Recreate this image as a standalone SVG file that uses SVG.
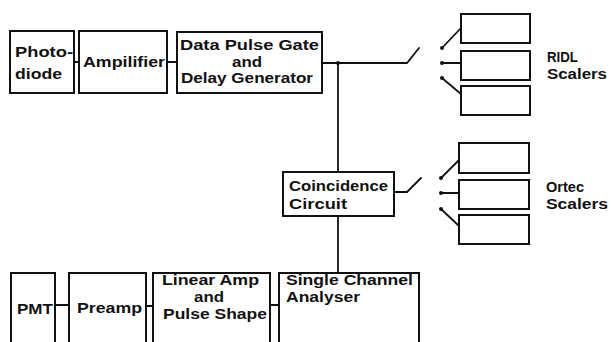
<svg xmlns="http://www.w3.org/2000/svg" width="611" height="342" viewBox="0 0 611 342">
  <style>
    .box { fill: #ffffff; stroke: #111111; stroke-width: 2; }
    .wire { fill: none; stroke: #111111; stroke-width: 1.8; stroke-linecap: round; }
    .dot { fill: #111111; }
    text { font-family: "Liberation Sans", Arial, sans-serif; font-weight: bold; font-size: 14.5px; fill: #111111; }
  </style>
  <rect width="611" height="342" fill="#ffffff"/>

  <g id="connectors">
    <!-- top chain -->
    <line class="wire" x1="74" y1="62" x2="79" y2="62"/>
    <line class="wire" x1="167" y1="62" x2="177" y2="62"/>
    <polyline class="wire" points="322,63 407,63 419,48"/>
    <circle class="dot" cx="338" cy="63" r="2"/>
    <!-- trunk down to coincidence and analyser -->
    <line class="wire" x1="338" y1="63" x2="338" y2="172"/>
    <line class="wire" x1="338" y1="216" x2="338" y2="273"/>
    <!-- RIDL switch contacts -->
    <circle class="dot" cx="442" cy="48" r="2"/>
    <circle class="dot" cx="442" cy="63" r="2"/>
    <circle class="dot" cx="442" cy="78" r="2"/>
    <line class="wire" x1="442" y1="48" x2="461" y2="28"/>
    <line class="wire" x1="442" y1="63" x2="461" y2="63"/>
    <line class="wire" x1="442" y1="78" x2="461" y2="94"/>
    <!-- Ortec switch -->
    <polyline class="wire" points="394,192 407,192 421,178"/>
    <circle class="dot" cx="441" cy="178" r="2"/>
    <circle class="dot" cx="441" cy="193" r="2"/>
    <circle class="dot" cx="441" cy="209" r="2"/>
    <line class="wire" x1="441" y1="178" x2="459" y2="160"/>
    <line class="wire" x1="441" y1="193" x2="459" y2="193"/>
    <line class="wire" x1="441" y1="209" x2="459" y2="226"/>
    <!-- bottom chain -->
    <line class="wire" x1="55" y1="305" x2="69" y2="305"/>
    <line class="wire" x1="146" y1="306" x2="153" y2="306"/>
    <line class="wire" x1="270" y1="305" x2="279" y2="305"/>
  </g>

  <g id="photodiode">
    <rect class="box" x="10" y="31" width="64" height="62"/>
    <text x="15" y="57" textLength="58" lengthAdjust="spacingAndGlyphs">Photo-</text>
    <text x="15" y="79" textLength="47" lengthAdjust="spacingAndGlyphs">diode</text>
  </g>

  <g id="amplifier">
    <rect class="box" x="79" y="31" width="88" height="62"/>
    <text x="83" y="67" textLength="82" lengthAdjust="spacingAndGlyphs">Ampilifier</text>
  </g>

  <g id="gate-delay">
    <rect class="box" x="177" y="32" width="145" height="61"/>
    <text x="180" y="50" textLength="139" lengthAdjust="spacingAndGlyphs">Data Pulse Gate</text>
    <text x="232" y="66.5" textLength="30" lengthAdjust="spacingAndGlyphs">and</text>
    <text x="181" y="83" textLength="132" lengthAdjust="spacingAndGlyphs">Delay Generator</text>
  </g>

  <g id="ridl-scaler-1"><rect class="box" x="461" y="14" width="69" height="29"/></g>
  <g id="ridl-scaler-2"><rect class="box" x="461" y="51" width="69" height="29"/></g>
  <g id="ridl-scaler-3"><rect class="box" x="461" y="86" width="69" height="29"/></g>
  <g id="ridl-label">
    <text x="547" y="62" textLength="31" lengthAdjust="spacingAndGlyphs">RIDL</text>
    <text x="547" y="79" textLength="60" lengthAdjust="spacingAndGlyphs">Scalers</text>
  </g>

  <g id="coincidence">
    <rect class="box" x="283" y="172" width="111" height="44"/>
    <text x="289" y="191" textLength="99" lengthAdjust="spacingAndGlyphs">Coincidence</text>
    <text x="289" y="209" textLength="58" lengthAdjust="spacingAndGlyphs">Circuit</text>
  </g>

  <g id="ortec-scaler-1"><rect class="box" x="459" y="143" width="70" height="30"/></g>
  <g id="ortec-scaler-2"><rect class="box" x="459" y="180" width="70" height="29"/></g>
  <g id="ortec-scaler-3"><rect class="box" x="459" y="215" width="70" height="29"/></g>
  <g id="ortec-label">
    <text x="546" y="192" textLength="38" lengthAdjust="spacingAndGlyphs">Ortec</text>
    <text x="546" y="209" textLength="62" lengthAdjust="spacingAndGlyphs">Scalers</text>
  </g>

  <g id="pmt">
    <rect class="box" x="11" y="273" width="44" height="80"/>
    <text x="17" y="314" textLength="36" lengthAdjust="spacingAndGlyphs">PMT</text>
  </g>

  <g id="preamp">
    <rect class="box" x="69" y="273" width="77" height="80"/>
    <text x="77" y="313" textLength="65" lengthAdjust="spacingAndGlyphs">Preamp</text>
  </g>

  <g id="linear-amp">
    <rect class="box" x="153" y="273" width="117" height="80"/>
    <text x="162" y="285" textLength="97" lengthAdjust="spacingAndGlyphs">Linear Amp</text>
    <text x="194" y="302" textLength="30" lengthAdjust="spacingAndGlyphs">and</text>
    <text x="163" y="319" textLength="104" lengthAdjust="spacingAndGlyphs">Pulse Shape</text>
  </g>

  <g id="single-channel-analyser">
    <rect class="box" x="279" y="273" width="140" height="80"/>
    <text x="286" y="285" textLength="127" lengthAdjust="spacingAndGlyphs">Single Channel</text>
    <text x="286" y="302" textLength="74" lengthAdjust="spacingAndGlyphs">Analyser</text>
  </g>
</svg>
